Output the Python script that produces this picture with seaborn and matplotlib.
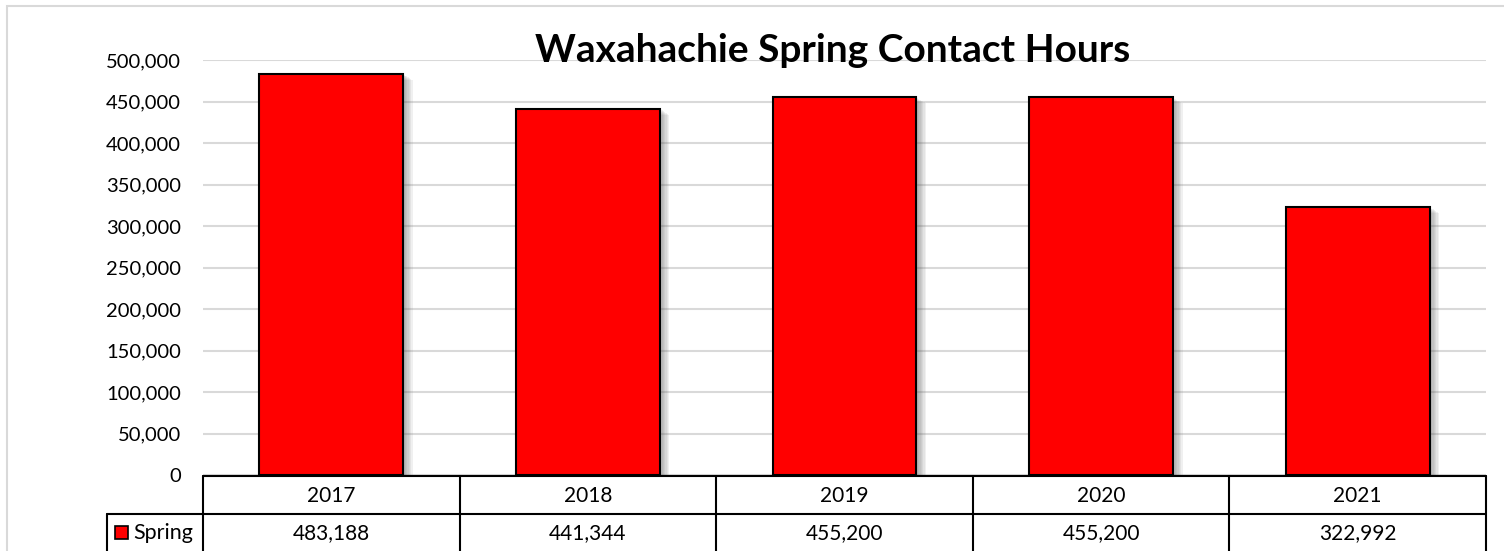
import pandas as pd
import matplotlib.pyplot as plt
import matplotlib.patheffects as pe
from matplotlib.ticker import FuncFormatter
import seaborn as sns

# data
years = ['2017', '2018', '2019', '2020', '2021']
spring = [483188, 441344, 455200, 455200, 322992]
series_name = 'Spring'
title = 'Waxahachie Spring Contact Hours'

df = pd.DataFrame({'year': years, 'hours': spring})

sns.set_style("white")
plt.rcParams['font.family'] = ['Lato', 'DejaVu Sans']
plt.rcParams['text.color'] = 'black'

W, H = 1504, 551
fig = plt.figure(figsize=(W / 100, H / 100), dpi=100)

# outer chart frame (light gray)
fig.patches.append(plt.Rectangle((7 / W, -0.1), 1.1, 1 - 6 / H + 0.1, transform=fig.transFigure,
                                 fill=False, edgecolor='#d9d9d9', linewidth=1.5))

# plot area in pixels
left, right, top, zero = 203, 1486, 60, 475
ax = fig.add_axes([left / W, 1 - zero / H, (right - left) / W, (zero - top) / H])

sns.barplot(data=df, x='year', y='hours', color='#ff0000', edgecolor='black',
            linewidth=1.5, width=0.56, saturation=1, ax=ax, zorder=3)
# soft shadow, built up from a few offset layers
shadow = [pe.SimplePatchShadow(offset=(d, -d * 0.6), shadow_rgbFace='#606060', alpha=0.09)
          for d in range(1, 8)]
for bar in ax.patches:
    bar.set_path_effects(shadow + [pe.Normal()])

ax.set_ylim(0, 500000)
ax.set_xlim(-0.5, 4.5)
ax.set_yticks(range(0, 500001, 50000))
ax.yaxis.set_major_formatter(FuncFormatter(lambda v, p: f'{int(v):,}'))
ax.tick_params(axis='y', labelsize=14.5, length=0, pad=16, colors='black')
ax.set_xticks([])
ax.set_xlabel('')
ax.set_ylabel('')
ax.grid(axis='y', color='#d9d9d9', linewidth=1.5, zorder=0)
for s in ax.spines.values():
    s.set_visible(False)

fig.text(833 / W, 1 - 50 / H, title, fontsize=28, fontweight='bold', color='black',
         ha='center', va='center')

# data table below the plot
tl = 107
tbl = fig.add_axes([tl / W, 0, (right - tl) / W, 1 - zero / H])
cat_w = (right - left) / 5
x0 = -0.5 - (left - tl) / cat_w
tbl.set_xlim(x0, 4.5)
tbl.set_ylim(H - 1, zero)  # pixel rows, top = zero
tbl.axis('off')
row1, row2, row_end = 476, 513, 551
lw = 1.5
tbl.plot([-0.5, 4.5], [row1, row1], color='black', lw=lw, clip_on=False)
tbl.plot([x0, 4.5], [row2, row2], color='black', lw=lw, clip_on=False)
tbl.plot([x0, x0], [row2, row_end], color='black', lw=lw, clip_on=False)
for i in range(6):
    tbl.plot([i - 0.5, i - 0.5], [row1, row_end], color='black', lw=lw, clip_on=False)
for i, (yr, v) in enumerate(zip(years, spring)):
    tbl.text(i, (row1 + row2) / 2 + 1, yr, ha='center', va='center', fontsize=15)
    tbl.text(i, 532, f'{v:,}', ha='center', va='center', fontsize=15)
key_x = x0 + 8 / cat_w
tbl.add_patch(plt.Rectangle((key_x, 525), 13 / cat_w, 13, facecolor='#ff0000',
                            edgecolor='black', lw=1.2, clip_on=False))
tbl.text(key_x + 18 / cat_w, 532, series_name, ha='left', va='center', fontsize=15.5)

fig.savefig('out.png', dpi=100)
